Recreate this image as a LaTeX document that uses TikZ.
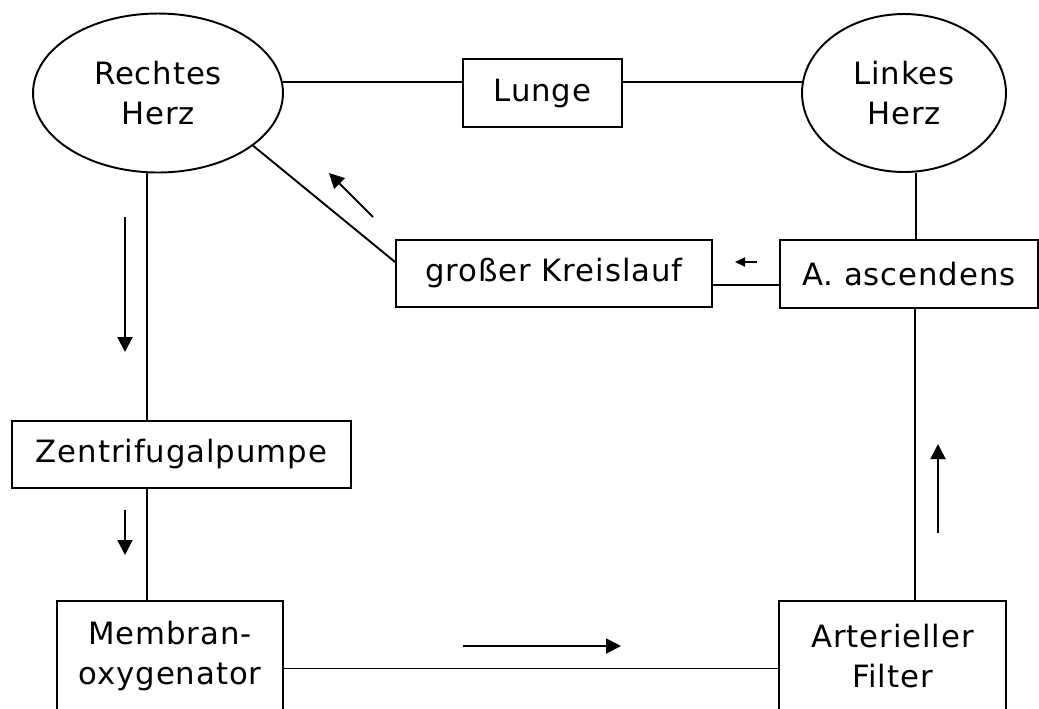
\documentclass[tikz,border=0pt]{standalone}
\usepackage{fontspec}
\setmainfont[LetterSpace=3]{DejaVu Sans}
\usetikzlibrary{arrows.meta,positioning,shapes.geometric}

\begin{document}
\begin{tikzpicture}[
  x=0.02cm, y=-0.02cm,
  line width=1.1pt,
  herz/.style={ellipse, draw, inner sep=0pt, align=center,
               font=\fontsize{17.5}{22.7}\selectfont},
  teil/.style={rectangle, draw, inner sep=0pt, align=center,
               font=\fontsize{17.5}{22.7}\selectfont},
  flow/.style={-{Triangle[length=0.3cm,width=0.3cm]}},
  flowsm/.style={-{Triangle[length=0.2cm,width=0.18cm]}}
]
\useasboundingbox (0,0) rectangle (1039,708);
\clip (0,0) rectangle (1039,708);
% hearts and lung
\node[herz, minimum width=5cm, minimum height=3.18cm] (rh) at (158,93) {Rechtes\\ Herz};
\node[herz, minimum width=4.08cm, minimum height=3.16cm] (lh) at (904,93) {Linkes\\ Herz};
\node[teil, minimum width=3.18cm, minimum height=1.36cm] (lu) at (542.5,93) {Lunge};
% circuit
\node[teil, minimum width=6.32cm, minimum height=1.34cm] (gk) at (554,273.5) {großer Kreislauf};
\node[teil, minimum width=5.16cm, minimum height=1.36cm] (aa) at (909,274) {A. ascendens};
\node[teil, minimum width=6.78cm, minimum height=1.34cm] (zp) at (181.5,454.5) {Zentrifugalpumpe};
\node[teil, minimum width=4.52cm, minimum height=2.2cm] (mo) at (170,656) {Membran-\\ oxygenator};
\node[teil, minimum width=4.54cm, minimum height=2.2cm] (af) at (892.5,656) {Arterieller\\ Filter};
% connections
\draw (rh.5) -- (rh.5 -| lu.west);
\draw (lu.east |- lh.174) -- (lh.174);
\draw (rh.-29) -- ([yshift=0.23cm]gk.west);
\draw ([yshift=-0.22cm]aa.west) -- ([yshift=-0.22cm]aa.west -| gk.east);
\draw ([xshift=0.24cm]lh.south) -- ([xshift=0.24cm]lh.south |- aa.north);
\draw ([xshift=-0.22cm]rh.south) -- ([xshift=-0.22cm]rh.south |- zp.north);
\draw ([xshift=-0.46cm]mo.north) -- ([xshift=-0.46cm]mo.north |- zp.south);
\draw ([yshift=-0.25cm]mo.east) -- ([yshift=-0.25cm]mo.east -| af.west);
\draw ([xshift=0.45cm]af.north) -- ([xshift=0.45cm]af.north |- aa.south);
% flow direction
\draw[flow] (125,217) -- (125,352);
\draw[flow] (125,510) -- (125,555);
\draw[flow] (463,646) -- (621,646);
\draw[flow] (938,533) -- (938,444);
\draw[flowsm] (757,262) -- (735,262);
\draw[flow] (373,217) -- (329,173);
\end{tikzpicture}
\end{document}
